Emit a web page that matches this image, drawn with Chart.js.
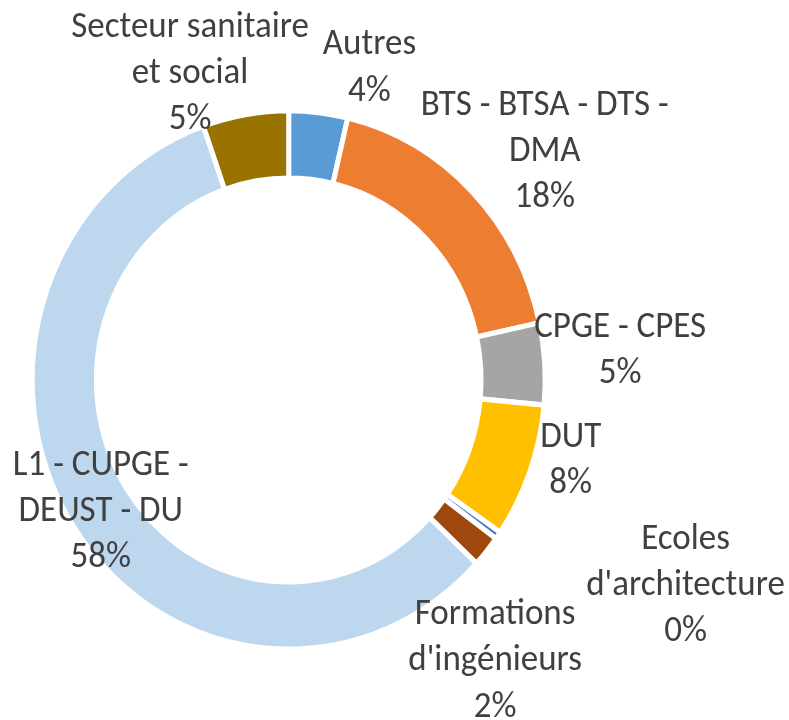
<!DOCTYPE html>
<html>
<head>
<meta charset="utf-8">
<script src="https://cdn.jsdelivr.net/npm/chart.js@4/dist/chart.umd.min.js"></script>
<style>
  html, body { margin: 0; padding: 0; background: #fff; overflow: hidden; }
  #donut { display: block; }
</style>
</head>
<body>
<canvas id="donut" width="789" height="720" style="width:789px;height:720px"></canvas>
<script>
// Données (parts estimées sur l'image)
const categories = [
    'Autres',
    ['BTS - BTSA - DTS -', 'DMA'],
    'CPGE - CPES',
    'DUT',
    ['Ecoles', "d'architecture"],
    ['Formations', "d'ingénieurs"],
    ['L1 - CUPGE -', 'DEUST - DU'],
    ['Secteur sanitaire', 'et social']
];
const values = [3.7, 17.9, 4.9, 8.1, 0.45, 1.9, 57.7, 5.4];
const colors = ['#5B9BD5', '#ED7D31', '#A5A5A5', '#FFC000', '#4472C4', '#9E480E', '#BDD7EE', '#997300'];

// décalages des étiquettes (px) par rapport à leur position de base
const labelNudge = [[46, 1], [42, -7], [32, -10], [0, -25], [152, 23], [-25, 77], [63, -39], [-48, 4]];

const total = values.reduce((a, b) => a + b, 0);
const stretchY = 1.0496; // l'image d'origine est un peu étirée en hauteur

// Plugin : étirement vertical + étiquettes (nom + pourcentage)
const labelPlugin = {
    id: 'outerLabels',
    beforeDatasetsDraw(chart) {
        chart.ctx.save();
        chart.ctx.scale(1, stretchY);
    },
    afterDatasetsDraw(chart) {
        const ctx = chart.ctx;
        const meta = chart.getDatasetMeta(0);
        ctx.fillStyle = '#404040';
        ctx.font = '35px Carlito, Lato, sans-serif';
        ctx.textAlign = 'center';
        ctx.textBaseline = 'middle';
        const lineH = 44;
        meta.data.forEach((arc, i) => {
            const p = arc.getProps(['x', 'y', 'startAngle', 'endAngle'], true);
            const mid = (p.startAngle + p.endAngle) / 2;
            const r = 300;
            const cx = p.x + Math.cos(mid) * r + labelNudge[i][0];
            const cy = p.y + Math.sin(mid) * r + labelNudge[i][1];
            const name = Array.isArray(categories[i]) ? categories[i] : [categories[i]];
            const lines = name.concat([Math.round(values[i] / total * 100) + '%']);
            const top = cy - (lines.length - 1) * lineH / 2;
            lines.forEach((t, j) => ctx.fillText(t, cx, top + j * lineH));
        });
        ctx.restore();
    }
};

const ctxDonut = document.getElementById('donut').getContext('2d');

const donutChart = new Chart(ctxDonut, {
    type: 'doughnut',
    data: {
        labels: categories,
        datasets: [{
            data: values,
            backgroundColor: colors,
            borderColor: '#fff',
            borderWidth: 5,
            hoverBorderWidth: 5
        }]
    },
    options: {
        responsive: false,
        animation: false,
        events: [],
        cutout: '75%',
        layout: {
            padding: { left: 29.7, right: 241.3, top: 103, bottom: 99 }
        },
        plugins: {
            legend: { display: false },
            tooltip: { enabled: false }
        }
    },
    plugins: [labelPlugin]
});
</script>
</body>
</html>
